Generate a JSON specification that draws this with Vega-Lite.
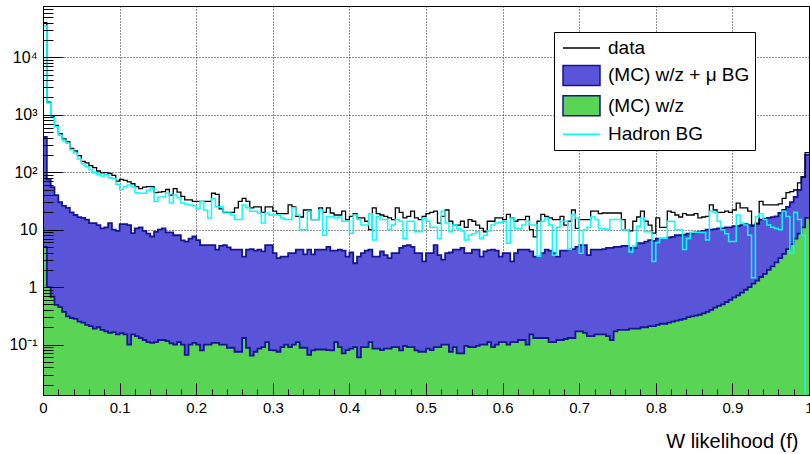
{
"$schema": "https://vega.github.io/schema/vega-lite/v6.json",
"width": 766, "height": 389,
"autosize": {"type": "none"},
"padding": {"left": 43, "top": 6, "right": 1, "bottom": 59},
"background": "white",
"config": {"font": "Liberation Sans", "view": {"stroke": "black", "strokeWidth": 1}, "axis": {"labelFont": "Liberation Sans", "labelColor": "black", "tickColor": "black", "domainColor": "black", "gridColor": "#222222", "gridDash": [1, 2], "gridWidth": 1, "tickWidth": 1, "domainWidth": 1}},
"data": {"values": [
{"x":0,"d":40000,"b":410,"g":5,"h":35000},
{"x":0.005,"d":1650,"b":75,"g":1.0,"h":1600},
{"x":0.01,"d":950,"b":55,"g":0.68,"h":900},
{"x":0.015,"d":650,"b":40,"g":0.49,"h":620},
{"x":0.02,"d":470,"b":30,"g":0.45,"h":440},
{"x":0.025,"d":380,"b":26,"g":0.37,"h":360},
{"x":0.03,"d":340,"b":24,"g":0.31,"h":320},
{"x":0.035,"d":260,"b":20,"g":0.29,"h":245},
{"x":0.04,"d":235,"b":18,"g":0.28,"h":215},
{"x":0.045,"d":195,"b":16.5,"g":0.25,"h":170},
{"x":0.05,"d":155,"b":16,"g":0.24,"h":140},
{"x":0.055,"d":145,"b":15,"g":0.22,"h":125},
{"x":0.06,"d":130,"b":13,"g":0.21,"h":110},
{"x":0.065,"d":120,"b":13,"g":0.19,"h":100},
{"x":0.07,"d":105,"b":12,"g":0.2,"h":92},
{"x":0.075,"d":97,"b":10.5,"g":0.18,"h":86},
{"x":0.08,"d":98,"b":11,"g":0.17,"h":90},
{"x":0.085,"d":95,"b":13,"g":0.16,"h":80},
{"x":0.09,"d":88,"b":10,"g":0.165,"h":78},
{"x":0.095,"d":70,"b":9.5,"g":0.15,"h":62},
{"x":0.1,"d":75,"b":12.5,"g":0.158,"h":50},
{"x":0.105,"d":72,"b":12.5,"g":0.15,"h":56},
{"x":0.11,"d":68,"b":12,"g":0.1,"h":60},
{"x":0.115,"d":63,"b":8.7,"g":0.15,"h":56},
{"x":0.12,"d":56,"b":10.5,"g":0.14,"h":44},
{"x":0.125,"d":52,"b":11,"g":0.13,"h":43},
{"x":0.13,"d":55,"b":9.5,"g":0.12,"h":43},
{"x":0.135,"d":56,"b":8.5,"g":0.11,"h":49},
{"x":0.14,"d":56,"b":7.6,"g":0.107,"h":52},
{"x":0.145,"d":44,"b":9.2,"g":0.11,"h":31},
{"x":0.15,"d":45,"b":10,"g":0.12,"h":37},
{"x":0.155,"d":46,"b":10.5,"g":0.12,"h":37},
{"x":0.16,"d":50,"b":9,"g":0.115,"h":43},
{"x":0.165,"d":40,"b":9,"g":0.105,"h":29},
{"x":0.17,"d":52,"b":8,"g":0.1,"h":40},
{"x":0.175,"d":45,"b":8,"g":0.11,"h":36},
{"x":0.18,"d":38,"b":6.5,"g":0.1,"h":29},
{"x":0.185,"d":33,"b":6.2,"g":0.066,"h":28},
{"x":0.19,"d":33,"b":7,"g":0.1,"h":27},
{"x":0.195,"d":31,"b":7.6,"g":0.107,"h":26},
{"x":0.2,"d":31,"b":6.6,"g":0.1,"h":23},
{"x":0.205,"d":31,"b":5.4,"g":0.079,"h":31},
{"x":0.21,"d":31,"b":5.4,"g":0.1,"h":22},
{"x":0.215,"d":31,"b":5.4,"g":0.1,"h":16},
{"x":0.22,"d":43,"b":5.4,"g":0.107,"h":35},
{"x":0.225,"d":41,"b":4.5,"g":0.107,"h":25},
{"x":0.23,"d":23,"b":5.2,"g":0.1,"h":25},
{"x":0.235,"d":20,"b":5.4,"g":0.1,"h":19.5},
{"x":0.24,"d":20,"b":4.9,"g":0.088,"h":19.5},
{"x":0.245,"d":20,"b":4.5,"g":0.088,"h":18},
{"x":0.25,"d":24,"b":4.5,"g":0.075,"h":15},
{"x":0.255,"d":31,"b":4.5,"g":0.075,"h":15},
{"x":0.26,"d":35,"b":3.4,"g":0.13,"h":27},
{"x":0.265,"d":31,"b":4.5,"g":0.088,"h":24},
{"x":0.27,"d":24,"b":4.6,"g":0.064,"h":21},
{"x":0.275,"d":25,"b":4.3,"g":0.075,"h":21},
{"x":0.28,"d":25,"b":4.5,"g":0.085,"h":19.5},
{"x":0.285,"d":20,"b":4.2,"g":0.09,"h":13},
{"x":0.29,"d":25,"b":5.4,"g":0.11,"h":19.5},
{"x":0.295,"d":25,"b":5.4,"g":0.08,"h":18},
{"x":0.3,"d":21,"b":3.9,"g":0.079,"h":18},
{"x":0.305,"d":19,"b":3.2,"g":0.075,"h":18},
{"x":0.31,"d":19,"b":3.4,"g":0.09,"h":16},
{"x":0.315,"d":19,"b":3.4,"g":0.1,"h":15},
{"x":0.32,"d":27,"b":3.9,"g":0.09,"h":15},
{"x":0.325,"d":25,"b":3.9,"g":0.1,"h":24},
{"x":0.33,"d":17,"b":4.5,"g":0.11,"h":18},
{"x":0.335,"d":16.6,"b":4.5,"g":0.088,"h":10},
{"x":0.34,"d":22,"b":3.7,"g":0.088,"h":10},
{"x":0.345,"d":22,"b":4.5,"g":0.066,"h":21},
{"x":0.35,"d":15,"b":3.7,"g":0.079,"h":15},
{"x":0.355,"d":15,"b":4.5,"g":0.082,"h":15},
{"x":0.36,"d":24,"b":4.5,"g":0.082,"h":22},
{"x":0.365,"d":20,"b":4.5,"g":0.082,"h":8},
{"x":0.37,"d":24,"b":5.0,"g":0.08,"h":17},
{"x":0.375,"d":19.5,"b":4.3,"g":0.079,"h":17},
{"x":0.38,"d":18,"b":4.3,"g":0.11,"h":16},
{"x":0.385,"d":18,"b":4.5,"g":0.09,"h":16.6},
{"x":0.39,"d":21,"b":4.3,"g":0.07,"h":14},
{"x":0.395,"d":15,"b":3.4,"g":0.08,"h":14},
{"x":0.4,"d":17,"b":4.0,"g":0.085,"h":8.7},
{"x":0.405,"d":19,"b":2.6,"g":0.09,"h":18},
{"x":0.41,"d":16,"b":3.4,"g":0.06,"h":15},
{"x":0.415,"d":16,"b":3.9,"g":0.09,"h":12},
{"x":0.42,"d":14,"b":4.3,"g":0.09,"h":12},
{"x":0.425,"d":10,"b":4.5,"g":0.11,"h":19},
{"x":0.43,"d":24,"b":3.4,"g":0.085,"h":6.6},
{"x":0.435,"d":19,"b":3.4,"g":0.085,"h":17},
{"x":0.44,"d":18,"b":4.2,"g":0.08,"h":15},
{"x":0.445,"d":17,"b":3.6,"g":0.085,"h":15},
{"x":0.45,"d":16,"b":3.2,"g":0.085,"h":10},
{"x":0.455,"d":15,"b":3.9,"g":0.09,"h":12},
{"x":0.46,"d":24,"b":3.9,"g":0.09,"h":15},
{"x":0.465,"d":20,"b":4.8,"g":0.079,"h":14},
{"x":0.47,"d":16,"b":5.2,"g":0.095,"h":7},
{"x":0.475,"d":17,"b":5.4,"g":0.09,"h":14},
{"x":0.48,"d":21,"b":5.0,"g":0.09,"h":14},
{"x":0.485,"d":16,"b":3.9,"g":0.079,"h":9.2},
{"x":0.49,"d":15,"b":3.9,"g":0.075,"h":9.2},
{"x":0.495,"d":17,"b":2.8,"g":0.075,"h":16},
{"x":0.5,"d":19,"b":3.9,"g":0.085,"h":14},
{"x":0.505,"d":20,"b":3.9,"g":0.08,"h":11},
{"x":0.51,"d":21,"b":5.4,"g":0.09,"h":11},
{"x":0.515,"d":13,"b":3.6,"g":0.09,"h":7},
{"x":0.52,"d":17,"b":3.0,"g":0.1,"h":21},
{"x":0.525,"d":22,"b":3.9,"g":0.1,"h":13},
{"x":0.53,"d":14,"b":4.0,"g":0.075,"h":9.2},
{"x":0.535,"d":12,"b":4.5,"g":0.09,"h":12},
{"x":0.54,"d":12,"b":4.5,"g":0.07,"h":10.5},
{"x":0.545,"d":14,"b":4.8,"g":0.07,"h":9.5},
{"x":0.55,"d":11,"b":3.9,"g":0.095,"h":6.6},
{"x":0.555,"d":15,"b":3.9,"g":0.09,"h":8},
{"x":0.56,"d":14,"b":4.5,"g":0.09,"h":8.5},
{"x":0.565,"d":12,"b":4.5,"g":0.095,"h":9.2},
{"x":0.57,"d":10.5,"b":3.4,"g":0.1,"h":7},
{"x":0.575,"d":9.2,"b":4.2,"g":0.1,"h":8},
{"x":0.58,"d":14,"b":4.4,"g":0.11,"h":9.5},
{"x":0.585,"d":14,"b":4.5,"g":0.09,"h":12},
{"x":0.59,"d":16,"b":4.3,"g":0.1,"h":13},
{"x":0.595,"d":16,"b":3.4,"g":0.11,"h":13.5},
{"x":0.6,"d":15,"b":3.9,"g":0.11,"h":14},
{"x":0.605,"d":18.5,"b":3.9,"g":0.1,"h":5.8},
{"x":0.61,"d":16,"b":2.8,"g":0.11,"h":16},
{"x":0.615,"d":14,"b":3.9,"g":0.11,"h":10.5},
{"x":0.62,"d":15,"b":4.5,"g":0.12,"h":10.5},
{"x":0.625,"d":15,"b":4.5,"g":0.12,"h":12},
{"x":0.63,"d":17,"b":4.5,"g":0.1,"h":14},
{"x":0.635,"d":10,"b":4.2,"g":0.15,"h":12},
{"x":0.64,"d":7.5,"b":3.4,"g":0.13,"h":12},
{"x":0.645,"d":14,"b":3.4,"g":0.13,"h":3.4},
{"x":0.65,"d":18.5,"b":3.9,"g":0.13,"h":14},
{"x":0.655,"d":17,"b":4.5,"g":0.13,"h":16},
{"x":0.66,"d":16,"b":4.3,"g":0.11,"h":12},
{"x":0.665,"d":15,"b":3.9,"g":0.11,"h":3.6},
{"x":0.67,"d":15,"b":3.4,"g":0.12,"h":11},
{"x":0.675,"d":17,"b":4.3,"g":0.12,"h":14},
{"x":0.68,"d":12,"b":4.3,"g":0.125,"h":14},
{"x":0.685,"d":14,"b":4.5,"g":0.13,"h":4.5},
{"x":0.69,"d":22,"b":4.6,"g":0.13,"h":18.5},
{"x":0.695,"d":10.5,"b":5.0,"g":0.17,"h":16},
{"x":0.7,"d":15,"b":5.4,"g":0.17,"h":3.9},
{"x":0.705,"d":15,"b":5.4,"g":0.16,"h":10},
{"x":0.71,"d":15,"b":3.6,"g":0.14,"h":11},
{"x":0.715,"d":21,"b":4.5,"g":0.14,"h":16.6},
{"x":0.72,"d":21,"b":4.5,"g":0.15,"h":15},
{"x":0.725,"d":19,"b":4.5,"g":0.15,"h":10.5},
{"x":0.73,"d":19.5,"b":4.6,"g":0.15,"h":10.5},
{"x":0.735,"d":19.5,"b":4.8,"g":0.14,"h":10},
{"x":0.74,"d":19.5,"b":4.8,"g":0.12,"h":15},
{"x":0.745,"d":19.5,"b":5.0,"g":0.17,"h":15},
{"x":0.75,"d":19.5,"b":5.0,"g":0.18,"h":15},
{"x":0.755,"d":15,"b":5.2,"g":0.18,"h":10},
{"x":0.76,"d":10,"b":5.2,"g":0.18,"h":10},
{"x":0.765,"d":9.5,"b":4.8,"g":0.19,"h":4.1},
{"x":0.77,"d":14,"b":4.8,"g":0.19,"h":5.2},
{"x":0.775,"d":16.6,"b":5.8,"g":0.19,"h":11.5},
{"x":0.78,"d":21,"b":5.8,"g":0.2,"h":16},
{"x":0.785,"d":14,"b":6.2,"g":0.2,"h":9.2},
{"x":0.79,"d":12,"b":6.6,"g":0.21,"h":9.2},
{"x":0.795,"d":8.7,"b":6.4,"g":0.21,"h":2.8},
{"x":0.8,"d":16,"b":7.0,"g":0.22,"h":6},
{"x":0.805,"d":11,"b":7.0,"g":0.23,"h":7},
{"x":0.81,"d":11,"b":7.0,"g":0.23,"h":7},
{"x":0.815,"d":21,"b":7.3,"g":0.24,"h":14},
{"x":0.82,"d":20,"b":7.5,"g":0.25,"h":14},
{"x":0.825,"d":18,"b":8.0,"g":0.26,"h":10},
{"x":0.83,"d":16.6,"b":8.0,"g":0.27,"h":10},
{"x":0.835,"d":19,"b":8.2,"g":0.28,"h":4.5},
{"x":0.84,"d":18,"b":8.5,"g":0.3,"h":7},
{"x":0.845,"d":18,"b":8.6,"g":0.31,"h":9},
{"x":0.85,"d":19,"b":9.0,"g":0.32,"h":9},
{"x":0.855,"d":16,"b":9.2,"g":0.33,"h":9},
{"x":0.86,"d":16.6,"b":9.5,"g":0.35,"h":9},
{"x":0.865,"d":17,"b":10,"g":0.37,"h":6.6},
{"x":0.87,"d":27,"b":10,"g":0.4,"h":21},
{"x":0.875,"d":22,"b":10.2,"g":0.44,"h":20},
{"x":0.88,"d":20,"b":10.5,"g":0.47,"h":14},
{"x":0.885,"d":20,"b":10.5,"g":0.5,"h":10},
{"x":0.89,"d":21,"b":11,"g":0.55,"h":8.5},
{"x":0.895,"d":20,"b":11,"g":0.6,"h":6.2},
{"x":0.9,"d":22,"b":11.5,"g":0.66,"h":6.2},
{"x":0.905,"d":29,"b":11.5,"g":0.72,"h":18},
{"x":0.91,"d":24,"b":12,"g":0.8,"h":13},
{"x":0.915,"d":24,"b":12.5,"g":0.9,"h":12},
{"x":0.92,"d":21,"b":12,"g":1.0,"h":8},
{"x":0.925,"d":12,"b":11.5,"g":1.15,"h":1.45},
{"x":0.93,"d":13,"b":12.5,"g":1.3,"h":17},
{"x":0.935,"d":31,"b":15,"g":1.5,"h":19},
{"x":0.94,"d":27,"b":15.5,"g":1.7,"h":15},
{"x":0.945,"d":27,"b":16,"g":2.0,"h":12},
{"x":0.95,"d":27,"b":16.5,"g":2.3,"h":11},
{"x":0.955,"d":27,"b":17,"g":2.7,"h":10.5},
{"x":0.96,"d":28,"b":19.5,"g":3.2,"h":10},
{"x":0.965,"d":35,"b":22,"g":3.8,"h":21},
{"x":0.97,"d":44,"b":25,"g":4.6,"h":17},
{"x":0.975,"d":46,"b":30,"g":5.6,"h":3.9},
{"x":0.98,"d":49,"b":37,"g":7,"h":20},
{"x":0.985,"d":65,"b":49,"g":8.5,"h":15},
{"x":0.99,"d":83,"b":83,"g":11,"h":8},
{"x":0.995,"d":220,"b":200,"g":16,"h":0.001},
{"x":1,"d":220,"b":200,"g":16,"h":0.001}
]},
"resolve": {"axis": {"x": "independent", "y": "independent"}},
"layer": [
{
"mark": {"type": "area", "interpolate": "step-after", "clip": true, "opacity": 1, "color": "#5954d8"},
"encoding": {
"x": {"field": "x", "type": "quantitative", "scale": {"domain": [0, 1], "nice": false, "zero": false},
 "axis": {"orient": "bottom", "values": [0.1,0.2,0.3,0.4,0.5,0.6,0.7,0.8,0.9], "grid": true, "ticks": false, "labels": false, "domain": false, "title": null, "zindex": 0}},
"y": {"field": "b", "type": "quantitative", "scale": {"type": "log", "domain": [0.01324, 78200], "nice": false},
 "axis": {"orient": "left", "values": [0.1,1,10,100,1000,10000], "grid": true, "ticks": false, "labels": false, "domain": false, "title": null, "zindex": 0}},
"y2": {"datum": 0.001}
}
},
{
"mark": {"type": "line", "interpolate": "step-after", "clip": true, "color": "#151590", "strokeWidth": 1.8},
"encoding": {
"x": {"field": "x", "type": "quantitative", "scale": {"domain": [0, 1], "nice": false, "zero": false},
 "axis": {"orient": "bottom", "values": [0,0.1,0.2,0.3,0.4,0.5,0.6,0.7,0.8,0.9,1], "format": "~g", "grid": false, "tickSize": -12, "labelPadding": 17, "labelFontSize": 15, "labelFlush": false, "labelOverlap": false, "domain": true, "zindex": 1,
  "title": "W likelihood (f)", "titleFont": "Liberation Sans", "titleFontSize": 20, "titleFontWeight": "normal", "titleColor": "black", "titleX": 755, "titleY": 52, "titleAlign": "right", "titleBaseline": "alphabetic"}},
"y": {"field": "b", "type": "quantitative", "scale": {"type": "log", "domain": [0.01324, 78200], "nice": false},
 "axis": {"orient": "left", "values": [0.1,1,10,100,1000,10000], "labelExpr": "datum.value >= 5000 ? '10⁴' : datum.value >= 500 ? '10³' : datum.value >= 50 ? '10²' : datum.value >= 5 ? '10' : datum.value >= 0.5 ? '1' : '10⁻¹'", "grid": false, "tickSize": -20, "labelPadding": 26, "labelFontSize": 16, "labelOverlap": false, "domain": true, "title": null, "zindex": 1}}
}
},
{
"mark": {"type": "area", "interpolate": "step-after", "clip": true, "opacity": 1, "color": "#59d454"},
"encoding": {
"x": {"field": "x", "type": "quantitative", "scale": {"domain": [0, 1], "nice": false, "zero": false},
 "axis": {"orient": "bottom", "values": [0.02,0.04,0.06,0.08,0.12,0.14,0.16,0.18,0.22,0.24,0.26,0.28,0.32,0.34,0.36,0.38,0.42,0.44,0.46,0.48,0.52,0.54,0.56,0.58,0.62,0.64,0.66,0.68,0.72,0.74,0.76,0.78,0.82,0.84,0.86,0.88,0.92,0.94,0.96,0.98], "tickSize": -6, "labels": false, "grid": false, "domain": false, "title": null, "zindex": 1}},
"y": {"field": "g", "type": "quantitative", "scale": {"type": "log", "domain": [0.01324, 78200], "nice": false},
 "axis": {"orient": "left", "values": [0.02,0.03,0.04,0.05,0.06,0.07,0.08,0.09,0.2,0.3,0.4,0.5,0.6,0.7,0.8,0.9,2,3,4,5,6,7,8,9,20,30,40,50,60,70,80,90,200,300,400,500,600,700,800,900,2000,3000,4000,5000,6000,7000,8000,9000,20000,30000,40000,50000,60000,70000], "tickSize": -10, "labels": false, "grid": false, "domain": false, "title": null, "zindex": 1}},
"y2": {"datum": 0.001}
}
},
{
"mark": {"type": "line", "interpolate": "step-after", "clip": true, "color": "#151590", "strokeWidth": 1.8},
"encoding": {
"x": {"field": "x", "type": "quantitative", "scale": {"domain": [0, 1], "nice": false, "zero": false},
 "axis": {"orient": "top", "ticks": false, "labels": false, "grid": false, "domain": true, "title": null, "zindex": 1}},
"y": {"field": "g", "type": "quantitative", "scale": {"type": "log", "domain": [0.01324, 78200], "nice": false},
 "axis": {"orient": "right", "ticks": false, "labels": false, "grid": false, "domain": true, "title": null, "zindex": 1}}
}
},
{
"mark": {"type": "line", "interpolate": "step-after", "clip": true, "color": "black", "strokeWidth": 1.3},
"encoding": {
"x": {"field": "x", "type": "quantitative", "scale": {"domain": [0, 1], "nice": false, "zero": false}, "axis": null},
"y": {"field": "d", "type": "quantitative", "scale": {"type": "log", "domain": [0.01324, 78200], "nice": false}, "axis": null}
}
},
{
"mark": {"type": "line", "interpolate": "step-after", "clip": true, "color": "#00ffff", "strokeWidth": 1.5},
"encoding": {
"x": {"field": "x", "type": "quantitative", "scale": {"domain": [0, 1], "nice": false, "zero": false}, "axis": null},
"y": {"field": "h", "type": "quantitative", "scale": {"type": "log", "domain": [0.01324, 78200], "nice": false}, "axis": null}
}
},
{
"transform": [{"filter": "false"}],
"mark": {"type": "point", "filled": true, "opacity": 1, "size": 400, "strokeWidth": 1.5, "clip": true},
"encoding": {
"x": {"field": "x", "type": "quantitative", "scale": {"domain": [0, 1], "nice": false, "zero": false}, "axis": null},
"y": {"field": "d", "type": "quantitative", "scale": {"type": "log", "domain": [0.01324, 78200], "nice": false}, "axis": null},
"fill": {"datum": "data", "type": "nominal",
 "scale": {"domain": ["data", "(MC) w/z + μ BG", "(MC) w/z", "Hadron BG"], "range": ["transparent", "#5954d8", "#59d454", "transparent"]},
 "legend": {"title": null, "orient": "none", "legendX": 511, "legendY": 26, "padding": 5, "strokeColor": "black", "fillColor": "white", "labelFont": "Liberation Sans", "labelFontSize": 19, "labelColor": "black", "labelOffset": 27, "rowPadding": 4.4, "symbolSize": 400, "symbolStrokeWidth": 1.5, "symbolOpacity": 1, "labelLimit": 400}},
"stroke": {"datum": "data", "type": "nominal",
 "scale": {"domain": ["data", "(MC) w/z + μ BG", "(MC) w/z", "Hadron BG"], "range": ["black", "#151590", "#151590", "#00ffff"]},
 "legend": {"title": null, "orient": "none", "legendX": 511, "legendY": 26, "padding": 5, "strokeColor": "black", "fillColor": "white", "labelFont": "Liberation Sans", "labelFontSize": 19, "labelColor": "black", "labelOffset": 27, "rowPadding": 4.4, "symbolSize": 400, "symbolStrokeWidth": 1.5, "symbolOpacity": 1, "labelLimit": 400}},
"shape": {"datum": "data", "type": "nominal",
 "scale": {"domain": ["data", "(MC) w/z + μ BG", "(MC) w/z", "Hadron BG"], "range": ["M-0.7,0H3", "M-0.7,-1H3V1H-0.7Z", "M-0.7,-1H3V1H-0.7Z", "M-0.7,0H3"]},
 "legend": {"title": null, "orient": "none", "legendX": 511, "legendY": 26, "padding": 5, "strokeColor": "black", "fillColor": "white", "labelFont": "Liberation Sans", "labelFontSize": 19, "labelColor": "black", "labelOffset": 27, "rowPadding": 4.4, "symbolSize": 400, "symbolStrokeWidth": 1.5, "symbolOpacity": 1, "labelLimit": 400}}
}
}
]
}
